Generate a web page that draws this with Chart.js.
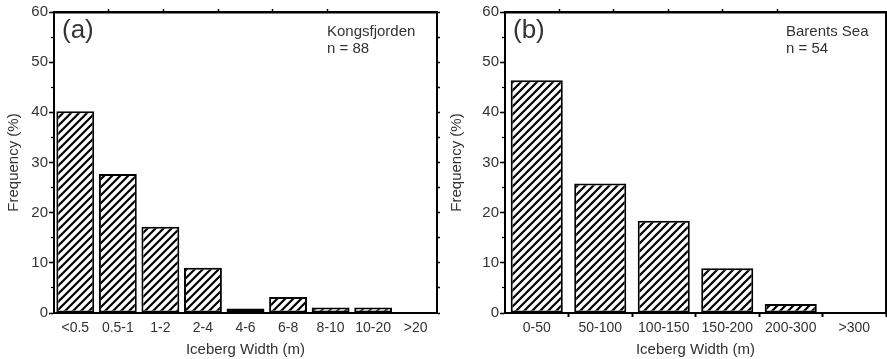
<!DOCTYPE html>
<html>
<head>
<meta charset="utf-8">
<script src="https://cdn.jsdelivr.net/npm/chart.js@4.4.1/dist/chart.umd.min.js"></script>
<style>
  body { margin: 0; background: #fff; }
  .panel { position: absolute; top: 0; height: 359px; }
  #wa { left: 0; width: 443px; }
  #wb { left: 443px; width: 444px; }
</style>
</head>
<body>
<div class="panel" id="wa"><canvas id="chartA"></canvas></div>
<div class="panel" id="wb"><canvas id="chartB"></canvas></div>
<script>
// data -----------------------------------------------------
var kongsLabels = ["<0.5", "0.5-1", "1-2", "2-4", "4-6", "6-8", "8-10", "10-20", ">20"];
var kongsFreq = [40.2, 27.7, 17.2, 9.0, 0.9, 3.2, 1.1, 1.1, 0];
var barentsLabels = ["0-50", "50-100", "100-150", "150-200", "200-300", ">300"];
var barentsFreq = [46.4, 25.8, 18.4, 8.9, 1.8, 0];
var yMin = 0, yMax = 60, yStep = 10, yMinorStep = 5;
var panelTags = ["(a)", "(b)"];
var siteNames = ["Kongsfjorden", "Barents Sea"];
var sampleSizes = ["n = 88", "n = 54"];
var xTitle = "Iceberg Width (m)";
var yTitle = "Frequency (%)";

var FONT = "'Liberation Sans', Arial, Helvetica, sans-serif";
var TXT = "#333";
Chart.defaults.font.family = FONT;
Chart.defaults.color = TXT;

function hatch() {
    var s = 8;
    var c = document.createElement('canvas');
    c.width = s; c.height = s;
    var g = c.getContext('2d');
    g.fillStyle = '#fff';
    g.fillRect(0, 0, s, s);
    g.strokeStyle = '#000';
    g.lineWidth = 2.2;
    g.beginPath();
    g.moveTo(-1, s + 1); g.lineTo(s + 1, -1);
    g.moveTo(-s / 2 - 1, s / 2 + 1); g.lineTo(s / 2 + 1, -s / 2 - 1);
    g.moveTo(s / 2 - 1, s * 1.5 + 1); g.lineTo(s * 1.5 + 1, s / 2 - 1);
    g.stroke();
    return g.createPattern(c, 'repeat');
}

// text inside the frame: (a) and site name
var notes = {
    id: 'notes',
    afterDraw: function(chart, args, o) {
        var ctx = chart.ctx, a = chart.chartArea;
        ctx.save();
        ctx.fillStyle = TXT;
        ctx.textBaseline = 'middle';
        ctx.textAlign = 'left';
        ctx.font = '26px ' + FONT;
        ctx.fillText(o.tag, a.left + 8, a.top + 19);
        ctx.font = '15px ' + FONT;
        ctx.fillText(o.site, a.right - o.dx, a.top + 20);
        ctx.fillText(o.n, a.right - o.dx, a.top + 37);
        ctx.restore();
    }
};

function makePanel(canvasId, labels, values, idx, leftW, rightW, barPct, bottomTicks, dx) {
    return new Chart(document.getElementById(canvasId), {
        type: 'bar',
        data: {
            labels: labels,
            datasets: [{
                data: values,
                backgroundColor: hatch(),
                borderColor: '#000',
                borderWidth: 2,
                borderSkipped: false,
                barPercentage: barPct,
                categoryPercentage: 1.0,
                xAxisID: 'x',
                yAxisID: 'y'
            }]
        },
        plugins: [notes],
        options: {
            responsive: true,
            maintainAspectRatio: false,
            animation: false,
            layout: { padding: 0 },
            plugins: {
                legend: { display: false },
                tooltip: { enabled: false },
                notes: { tag: panelTags[idx], site: siteNames[idx], n: sampleSizes[idx], dx: dx }
            },
            scales: {
                x: {
                    position: 'bottom',
                    grid: {
                        drawOnChartArea: false,
                        drawTicks: bottomTicks,
                        offset: true,
                        tickLength: 4,
                        tickWidth: 2,
                        tickColor: function(c) {
                            return (c.index === 0) ? 'rgba(0,0,0,0)' : '#000';
                        }
                    },
                    border: { display: true, color: '#000', width: 2 },
                    ticks: { font: { size: 14 }, color: TXT, padding: bottomTicks ? 3 : 7, maxRotation: 0, autoSkip: false },
                    title: { display: true, text: xTitle, font: { size: 15 }, color: TXT, padding: { top: 1, bottom: 0 } },
                    afterFit: function(s) { s.height = 46; }
                },
                xTop: {
                    type: 'linear',
                    position: 'top',
                    min: 0, max: 6,
                    ticks: { display: false, stepSize: 1 },
                    grid: {
                        drawOnChartArea: false,
                        tickLength: 3,
                        tickWidth: 1.5,
                        tickColor: function(c) {
                            var v = c.tick ? c.tick.value : 0;
                            return (v === 0 || v === 6) ? 'rgba(0,0,0,0)' : '#000';
                        }
                    },
                    border: { display: true, color: '#000', width: 2.5 },
                    afterFit: function(s) { s.height = 12; }
                },
                y: {
                    position: 'left',
                    min: yMin, max: yMax,
                    weight: 1,
                    ticks: { stepSize: yStep, font: { size: 15 }, color: TXT, padding: 1 },
                    grid: { drawOnChartArea: false, tickLength: 5, tickWidth: 1.5, tickColor: '#000' },
                    border: { display: true, color: '#000', width: 2 },
                    title: { display: true, text: yTitle, font: { size: 15 }, color: TXT, padding: { top: 5, bottom: 0 } },
                    afterFit: function(s) { s.width = leftW; }
                },
                yMinor: {
                    type: 'linear',
                    position: 'left',
                    min: yMin, max: yMax,
                    weight: 0,
                    ticks: { display: false, stepSize: yMinorStep },
                    grid: { drawOnChartArea: false, tickLength: 3, tickWidth: 1.2, tickColor: '#000' },
                    border: { display: false },
                    afterFit: function(s) { s.width = 0; }
                },
                yRight: {
                    type: 'linear',
                    position: 'right',
                    min: yMin, max: yMax,
                    ticks: { display: false, stepSize: yMinorStep },
                    grid: { drawOnChartArea: false, tickLength: 3, tickWidth: 1.5, tickColor: '#000' },
                    border: { display: true, color: '#000', width: 2 },
                    afterFit: function(s) { s.width = rightW; }
                }
            }
        }
    });
}

makePanel('chartA', kongsLabels, kongsFreq, 0, 54, 6, 0.89, false, 110);
makePanel('chartB', barentsLabels, barentsFreq, 1, 62, 1, 0.82, true, 100);
</script>
</body>
</html>
